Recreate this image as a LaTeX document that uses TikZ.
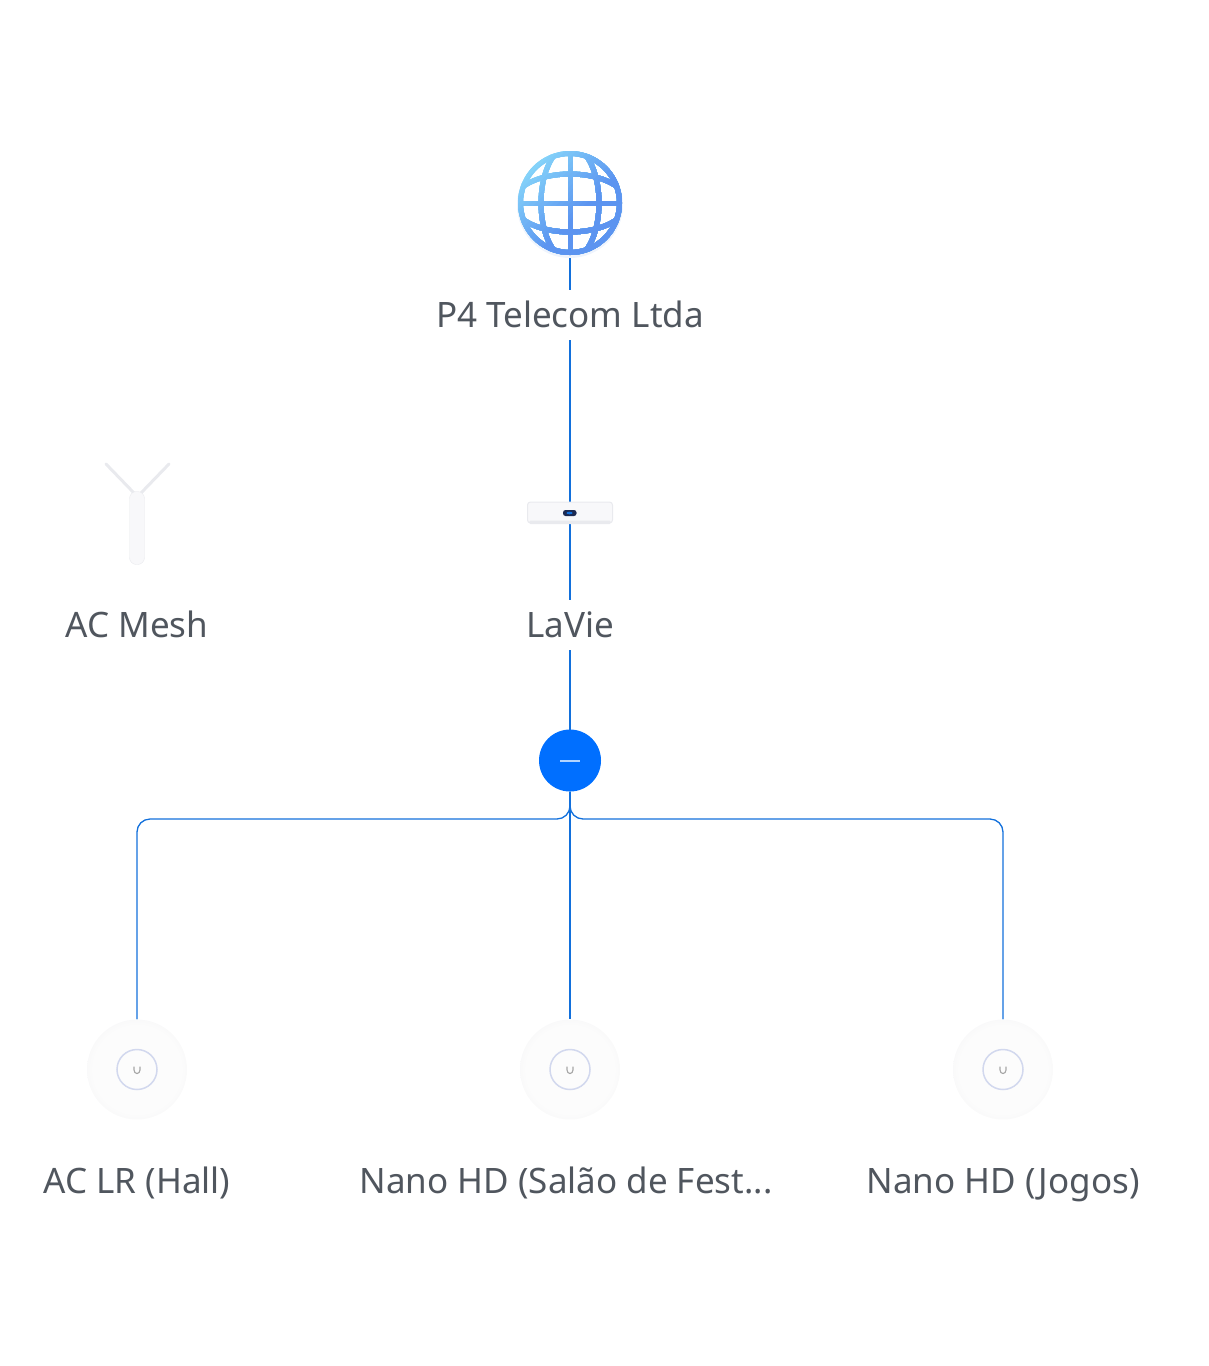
\documentclass[tikz,border=0pt]{standalone}
\usepackage{fontspec}
\setmainfont{Noto Sans}
\usetikzlibrary{backgrounds}
\definecolor{netblue}{HTML}{1270DC}
\definecolor{hubblue}{HTML}{006FFF}
\definecolor{labelgrey}{HTML}{50565E}
\definecolor{globelight}{HTML}{86D6FA}
\definecolor{globemid}{HTML}{5C94F0}
\definecolor{ringblue}{HTML}{D2D8EE}
\definecolor{devwhite}{HTML}{F8F8FA}
\definecolor{devedge}{HTML}{E9EAEE}
\definecolor{apcentre}{HTML}{FCFCFC}
\definecolor{aprim}{HTML}{F0F0F2}
\definecolor{chipnavy}{HTML}{1C2A52}
\newcommand{\midaptext}{Nano HD (Salão de Fest...}
\pgfdeclareradialshading{apglow}{\pgfpointorigin}{color(0bp)=(apcentre); color(22bp)=(apcentre); color(35.4bp)=(aprim); color(50bp)=(aprim)}
\tikzset{
	netline/.style={netblue,line width=1.3pt},
	devlabel/.style={fill=white,text=labelgrey,font=\fontsize{35}{35}\selectfont,minimum height=50pt,inner xsep=0pt,inner ysep=0pt,text height=34pt,text depth=10pt},
	apdisc/.style={circle,minimum size=100pt,inner sep=0pt,shade,shading=apglow},
}
\newcommand{\globelines}{%
	\draw (0,0) circle (49.5);
	\begin{scope}
		\clip (0,0) circle (49.5);
		\draw (0,0) ellipse (29 and 57);
		\draw (0,0) ellipse (57 and 29);
		\draw (-52,0) -- (52,0);
		\draw (0,-52) -- (0,52);
	\end{scope}
}
\begin{document}
\begin{tikzpicture}[x=1pt,y=-1pt]
	\useasboundingbox (0,0) rectangle (1209,1366);

	% Internet globe
	\fill[globemid!10] (570,205) circle (53);
	\fill[white] (570,203) circle (47);
	\node[circle,minimum size=104pt,inner sep=0pt] (wan) at (570,203) {};
	\foreach \t in {-56,-52,...,12}{
		\pgfmathsetmacro{\globemix}{min(100,(\t+56)/0.68)}
		\begin{scope}[shift={(570,203)}]
			\clip[rotate=-45] (\t,-80) rectangle (80,80);
			\begin{scope}[line width=5pt,draw=globemid!\globemix!globelight]
				\globelines
			\end{scope}
		\end{scope}
	}
	\node[devlabel] (wanlabel) at (570,315) {P4 Telecom Ltda};

	% Gateway
	\node[draw=devedge,fill=devwhite,rounded corners=3pt,line width=1pt,minimum width=85pt,minimum height=21pt,inner sep=0pt] (gateway) at (570,512.5) {};
	\fill[devedge,rounded corners=1.5pt] (529,520.5) rectangle (611,524);
	\fill[chipnavy,rounded corners=2.5pt] (563,510) rectangle (576.5,516);
	\fill[netblue] (569.5,513) ellipse (3 and 1.3);
	\node[devlabel] (gatewaylabel) at (570,625) {LaVie};

	% Mesh antenna
	\draw[devedge,line width=3pt,line cap=round] (106,464) -- (134,493);
	\draw[devedge,line width=3pt,line cap=round] (169,464) -- (141,493);
	\node[draw=devedge,fill=devwhite,rounded corners=7pt,minimum width=15pt,minimum height=73pt,inner sep=0pt] (mesh) at (137,528) {};
	\node[devlabel] (meshlabel) at (137,625) {AC Mesh};

	% Expand button
	\node[circle,fill=hubblue,minimum size=62pt,inner sep=0pt] (hub) at (570,760.5) {};
	\draw[white!70!hubblue,line width=2pt] (560,760.5) -- (580,760.5);

	% Access points
	\foreach \apname/\apx/\aptext/\labelx in {apleft/137/AC LR (Hall)/137,apmid/570/\midaptext/566,apright/1003/Nano HD (Jogos)/1003}{
		\node[apdisc] (\apname) at (\apx,1069.5) {};
		\draw[ringblue,line width=1.5pt] (\apx,1069.5) circle (20);
		\draw[black!35,line width=1.1pt] (\apx-3,1066.5) -- (\apx-3,1070) arc[start angle=180,end angle=0,x radius=3,y radius=3.5] -- (\apx+3,1066.5);
		\node[devlabel] (\apname label) at (\labelx,1181) {\aptext};
	}

	% Connectors
	\coordinate (bus) at (570,819);
	\begin{pgfonlayer}{background}
		\draw[netline] (wan.center) -- (gateway.center);
		\draw[netline] (gateway.center) -- (hub.center);
		\draw[netline,rounded corners=13pt] (hub.south) -- (bus) -| (apleft.north);
		\draw[netline,rounded corners=13pt] (hub.south) -- (bus) -| (apright.north);
		\draw[netline] (hub.south) -- (apmid.north);
	\end{pgfonlayer}
\end{tikzpicture}
\end{document}
